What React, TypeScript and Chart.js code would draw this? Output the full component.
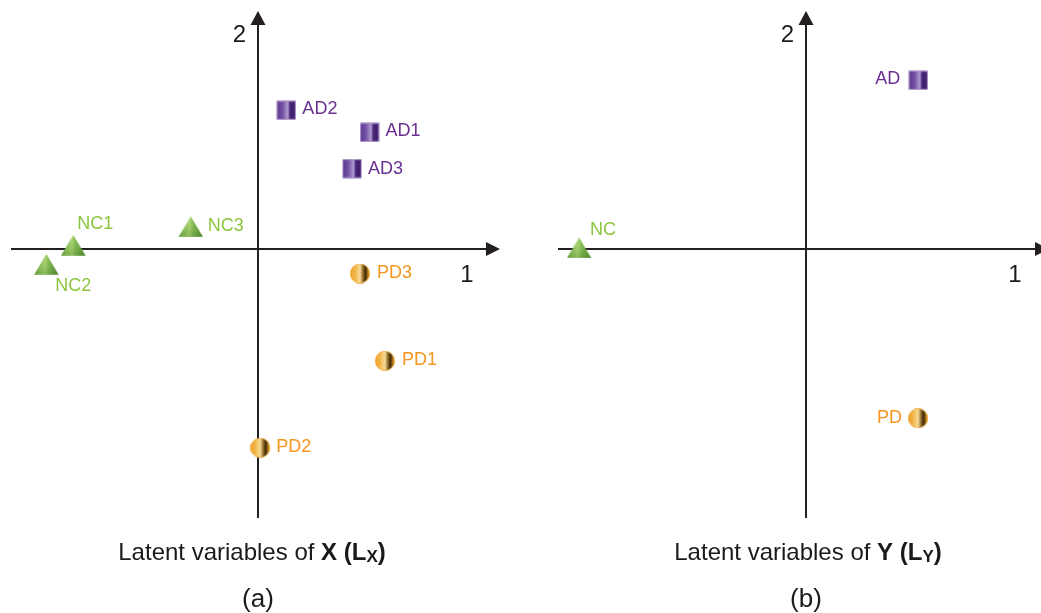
import React, { useEffect, useRef } from 'react';
import { Chart, registerables } from 'chart.js';

Chart.register(...registerables);

// ---------- DATA ----------
// Panel (a): latent variables of X
const adNamesA = ['AD1', 'AD2', 'AD3'];
const adXA = [0.452, 0.115, 0.381];
const adYA = [0.49, 0.583, 0.338];
const ncNamesA = ['NC1', 'NC2', 'NC3'];
const ncXA = [-0.748, -0.857, -0.272];
const ncYA = [0.016, -0.064, 0.094];
const pdNamesA = ['PD1', 'PD2', 'PD3'];
const pdXA = [0.514, 0.009, 0.413];
const pdYA = [-0.47, -0.835, -0.103];

// Panel (b): latent variables of Y
const adNamesB = ['AD'];
const adXB = [0.453];
const adYB = [0.709];
const ncNamesB = ['NC'];
const ncXB = [-0.915];
const ncYB = [0.005];
const pdNamesB = ['PD'];
const pdXB = [0.452];
const pdYB = [-0.711];

const axisTickLabels = ['1', '2'];
const titleVarA = 'X';
const titleVarB = 'Y';
const panelLetters = ['(a)', '(b)'];

// ---------- STYLE ----------
const FONT = '"Liberation Sans", Arial, Helvetica, sans-serif';
const AXIS_COLOR = '#231f20';
const COLORS = { AD: '#6a2f92', NC: '#8cc63f', PD: '#f7941d' };

type LabelPlace = { dx: number; dy: number; align: CanvasTextAlign };
const placeA: Record<string, LabelPlace[]> = {
  AD: [
    { dx: 16, dy: -1, align: 'left' },
    { dx: 16, dy: -1, align: 'left' },
    { dx: 16, dy: 0, align: 'left' },
  ],
  NC: [
    { dx: 4, dy: -21, align: 'left' },
    { dx: 9, dy: 22, align: 'left' },
    { dx: 17, dy: -1, align: 'left' },
  ],
  PD: [
    { dx: 17, dy: -1, align: 'left' },
    { dx: 16, dy: -1, align: 'left' },
    { dx: 17, dy: -1, align: 'left' },
  ],
};
const placeB: Record<string, LabelPlace[]> = {
  AD: [{ dx: -18, dy: -1, align: 'right' }],
  NC: [{ dx: 11, dy: -18, align: 'left' }],
  PD: [{ dx: -16, dy: 0, align: 'right' }],
};

function makeSquare(): HTMLCanvasElement {
  const c = document.createElement('canvas');
  c.width = 20; c.height = 20;
  const g = c.getContext('2d')!;
  const grad = g.createLinearGradient(1, 0, 19, 0);
  grad.addColorStop(0, '#5a3590');
  grad.addColorStop(0.3, '#7654a6');
  grad.addColorStop(0.58, '#b19bd0');
  grad.addColorStop(0.7, '#4a2678');
  grad.addColorStop(1, '#3e1b69');
  g.fillStyle = '#8d70b4';
  g.fillRect(0.5, 0.5, 19, 19);
  g.fillStyle = grad;
  g.fillRect(1.5, 1.5, 17, 17);
  return c;
}

function makeCircle(): HTMLCanvasElement {
  const c = document.createElement('canvas');
  c.width = 20; c.height = 20;
  const g = c.getContext('2d')!;
  const grad = g.createLinearGradient(0, 0, 20, 0);
  grad.addColorStop(0, '#eea22a');
  grad.addColorStop(0.25, '#f2b449');
  grad.addColorStop(0.5, '#f7dc9a');
  grad.addColorStop(0.66, '#8a6420');
  grad.addColorStop(0.78, '#3e2a0c');
  grad.addColorStop(0.92, '#c98a1e');
  grad.addColorStop(1, '#f0a530');
  g.beginPath();
  g.arc(10, 10, 9.7, 0, Math.PI * 2);
  g.fillStyle = grad;
  g.fill();
  g.lineWidth = 0.8;
  g.strokeStyle = '#f3ab3a';
  g.stroke();
  return c;
}

function makeTriangle(): HTMLCanvasElement {
  const c = document.createElement('canvas');
  c.width = 25; c.height = 21;
  const g = c.getContext('2d')!;
  const grad = g.createLinearGradient(0, 0, 25, 0);
  grad.addColorStop(0, '#6fae3e');
  grad.addColorStop(0.45, '#a6d46c');
  grad.addColorStop(0.6, '#7cb74a');
  grad.addColorStop(1, '#4f8e29');
  g.beginPath();
  g.moveTo(12.5, 0.3);
  g.lineTo(24.7, 20.7);
  g.lineTo(0.3, 20.7);
  g.closePath();
  g.fillStyle = grad;
  g.fill();
  const v = g.createLinearGradient(0, 0, 0, 21);
  v.addColorStop(0, 'rgba(255,255,255,0.0)');
  v.addColorStop(1, 'rgba(40,90,20,0.25)');
  g.fillStyle = v;
  g.fill();
  return c;
}

type Group = { kind: 'AD' | 'NC' | 'PD'; names: string[]; xs: number[]; ys: number[] };

type PanelCfg = {
  canvasLeft: number;
  width: number;
  padding: { left: number; right: number; top: number; bottom: number };
  groups: Group[];
  place: Record<string, LabelPlace[]>;
  titleVar: string;
  titleDx: number;
  letter: string;
};

const panelA: PanelCfg = {
  canvasLeft: 0,
  width: 520,
  padding: { left: 10, right: 20, top: 10, bottom: 95 },
  groups: [
    { kind: 'AD', names: adNamesA, xs: adXA, ys: adYA },
    { kind: 'NC', names: ncNamesA, xs: ncXA, ys: ncYA },
    { kind: 'PD', names: pdNamesA, xs: pdXA, ys: pdYA },
  ],
  place: placeA,
  titleVar: titleVarA,
  titleDx: -6,
  letter: panelLetters[0],
};

const panelB: PanelCfg = {
  canvasLeft: 520,
  width: 540,
  padding: { left: 38, right: 11, top: 10, bottom: 95 },
  groups: [
    { kind: 'AD', names: adNamesB, xs: adXB, ys: adYB },
    { kind: 'NC', names: ncNamesB, xs: ncXB, ys: ncYB },
    { kind: 'PD', names: pdNamesB, xs: pdXB, ys: pdYB },
  ],
  place: placeB,
  titleVar: titleVarB,
  titleDx: 2,
  letter: panelLetters[1],
};

const HEIGHT = 613;

function drawTitle(ctx: CanvasRenderingContext2D, cx: number, baseline: number, v: string) {
  const parts = [
    { t: 'Latent variables of ', f: `24px ${FONT}`, dy: 0 },
    { t: v + ' (L', f: `bold 24px ${FONT}`, dy: 0 },
    { t: v, f: `bold 17px ${FONT}`, dy: 1.5 },
    { t: ')', f: `bold 24px ${FONT}`, dy: 0 },
  ];
  let total = 0;
  const widths = parts.map((p) => {
    ctx.font = p.f;
    const w = ctx.measureText(p.t).width;
    total += w;
    return w;
  });
  let x = cx - total / 2;
  ctx.fillStyle = '#1a1a1a';
  ctx.textAlign = 'left';
  ctx.textBaseline = 'alphabetic';
  parts.forEach((p, i) => {
    ctx.font = p.f;
    ctx.fillText(p.t, x, baseline + p.dy);
    x += widths[i];
  });
}

function Panel({ cfg }: { cfg: PanelCfg }) {
  const ref = useRef<HTMLCanvasElement>(null);
  useEffect(() => {
    if (!ref.current) return;
    const images = { AD: makeSquare(), NC: makeTriangle(), PD: makeCircle() };

    const decor = {
      id: 'decor',
      beforeDatasetsDraw(chart: any) {
        const { ctx, chartArea } = chart;
        const { left, right, top, bottom } = chartArea;
        const ox = Math.round(chart.scales.x.getPixelForValue(0));
        const oy = Math.round(chart.scales.y.getPixelForValue(0));
        ctx.save();
        ctx.strokeStyle = AXIS_COLOR;
        ctx.fillStyle = AXIS_COLOR;
        ctx.lineWidth = 2;
        ctx.beginPath();
        ctx.moveTo(left, oy);
        ctx.lineTo(right - 10, oy);
        ctx.stroke();
        ctx.beginPath();
        ctx.moveTo(right, oy);
        ctx.lineTo(right - 14, oy - 7);
        ctx.lineTo(right - 14, oy + 7);
        ctx.closePath();
        ctx.fill();
        ctx.beginPath();
        ctx.moveTo(ox, bottom);
        ctx.lineTo(ox, top + 10);
        ctx.stroke();
        ctx.beginPath();
        ctx.moveTo(ox, top);
        ctx.lineTo(ox - 7.5, top + 14);
        ctx.lineTo(ox + 7.5, top + 14);
        ctx.closePath();
        ctx.fill();

        ctx.font = `24px ${FONT}`;
        ctx.fillStyle = '#1a1a1a';
        ctx.textAlign = 'center';
        ctx.textBaseline = 'middle';
        ctx.fillText(axisTickLabels[0], ox + 209, oy + 26);
        ctx.fillText(axisTickLabels[1], ox - 18.5, top + 24);

        drawTitle(ctx, ox + cfg.titleDx, 560, cfg.titleVar);
        ctx.font = `26px ${FONT}`;
        ctx.fillStyle = '#1a1a1a';
        ctx.textAlign = 'center';
        ctx.textBaseline = 'middle';
        ctx.fillText(cfg.letter, ox, 600);
        ctx.restore();
      },
      afterDatasetsDraw(chart: any) {
        const { ctx } = chart;
        ctx.save();
        ctx.font = `18px ${FONT}`;
        ctx.textBaseline = 'middle';
        cfg.groups.forEach((g, i) => {
          const meta = chart.getDatasetMeta(i);
          meta.data.forEach((el: any, j: number) => {
            const p = cfg.place[g.kind][j];
            ctx.fillStyle = COLORS[g.kind];
            ctx.textAlign = p.align;
            ctx.fillText(g.names[j], el.x + p.dx, el.y + p.dy);
          });
        });
        ctx.restore();
      },
    };

    const chart = new Chart(ref.current, {
      type: 'scatter',
      data: {
        datasets: cfg.groups.map((g) => ({
          label: g.kind,
          data: g.xs.map((x, k) => ({ x, y: g.ys[k] })),
          pointStyle: images[g.kind] as any,
          pointRadius: 10,
          pointHoverRadius: 10,
          showLine: false,
        })),
      },
      options: {
        animation: false,
        responsive: false,
        devicePixelRatio: 1,
        layout: { padding: cfg.padding },
        plugins: { legend: { display: false }, tooltip: { enabled: false } },
        events: [],
        scales: {
          x: { type: 'linear', min: -1, max: 0.98, display: false },
          y: { type: 'linear', min: -1.13, max: 1, display: false },
        },
      },
      plugins: [decor],
    });
    return () => chart.destroy();
  }, [cfg]);

  return (
    <canvas
      ref={ref}
      width={cfg.width}
      height={HEIGHT}
      style={{ position: 'absolute', left: cfg.canvasLeft, top: 0, width: cfg.width, height: HEIGHT }}
    />
  );
}

export default function App() {
  return (
    <div
      style={{
        position: 'fixed',
        left: 0,
        top: 0,
        width: 1041,
        height: 613,
        overflow: 'hidden',
        background: '#ffffff',
      }}
    >
      <Panel cfg={panelA} />
      <Panel cfg={panelB} />
    </div>
  );
}
